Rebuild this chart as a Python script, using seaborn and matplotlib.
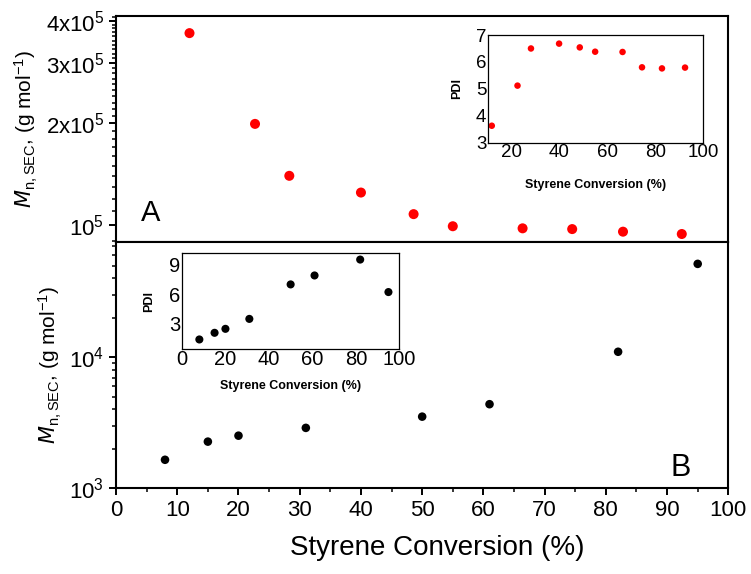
import numpy as np
import pandas as pd
import matplotlib
matplotlib.use("Agg")
import matplotlib.pyplot as plt
from matplotlib.ticker import FixedLocator, NullFormatter, MultipleLocator
import seaborn as sns

# Series A (red): number-average molar mass and dispersity vs. styrene conversion
conv_a = [12.0, 22.7, 28.3, 40.0, 48.6, 55.0, 66.4, 74.5, 82.8, 92.4]
mn_a = [3.68e5, 1.99e5, 1.40e5, 1.25e5, 1.08e5, 0.995e5, 0.981e5, 0.976e5, 0.959e5, 0.944e5]
pdi_a = [3.63, 5.12, 6.50, 6.68, 6.54, 6.38, 6.37, 5.80, 5.76, 5.79]

# Series B (black)
conv_b = [8, 15, 20, 31, 50, 61, 82, 95]
mn_b = [1650, 2270, 2520, 2890, 3520, 4380, 11000, 51500]
pdi_b = [1.43, 2.10, 2.50, 3.50, 6.97, 7.87, 9.47, 6.20]

xticks_main = [0, 10, 20, 30, 40, 50, 60, 70, 80, 90, 100]
yticks_a = [1e5, 2e5, 3e5, 4e5]
yticklabels_a = [r"$10^5$", r"$2x10^5$", r"$3x10^5$", r"$4x10^5$"]
yticks_b = [1e3, 1e4]
yticklabels_b = [r"$10^3$", r"$10^4$"]

df_a = pd.DataFrame({"conv": conv_a, "mn": mn_a, "pdi": pdi_a})
df_b = pd.DataFrame({"conv": conv_b, "mn": mn_b, "pdi": pdi_b})

sns.set_style("ticks", {"axes.edgecolor": "black", "text.color": "black",
                        "axes.labelcolor": "black", "xtick.color": "black",
                        "ytick.color": "black"})
plt.rcParams["font.family"] = ["Liberation Sans", "DejaVu Sans"]
plt.rcParams["mathtext.default"] = "regular"

fig = plt.figure(figsize=(7.51, 5.74), dpi=100)
ax_a = fig.add_axes([0.1545, 0.5789, 0.8153, 0.3937])
ax_b = fig.add_axes([0.1545, 0.1493, 0.8153, 0.4296])

ylab = r"$\mathit{M}_{\mathregular{n,SEC}}$, (g mol$^{-1}$)"

# --- Panel A ---
sns.scatterplot(data=df_a, x="conv", y="mn", ax=ax_a, color="#ff0000",
                s=52, edgecolor="none", legend=False)
ax_a.set_yscale("log")
ax_a.set_xlim(0, 100)
ax_a.set_ylim(0.896e5, 4.14e5)
ax_a.yaxis.set_major_locator(FixedLocator(yticks_a))
ax_a.set_yticklabels(yticklabels_a)
ax_a.yaxis.set_minor_locator(FixedLocator(np.arange(0.9e5, 4.15e5, 1e4)))
ax_a.yaxis.set_minor_formatter(NullFormatter())
ax_a.xaxis.set_major_locator(FixedLocator(xticks_main))
ax_a.xaxis.set_minor_locator(MultipleLocator(5))
ax_a.tick_params(axis="x", labelbottom=False)
ax_a.set_xlabel("")
ax_a.set_ylabel(ylab, fontsize=15, labelpad=4)
ax_a.text(4, 1.03e5, "A", fontsize=21)

# --- Panel B ---
sns.scatterplot(data=df_b, x="conv", y="mn", ax=ax_b, color="black",
                s=38, edgecolor="none", legend=False)
ax_b.set_yscale("log")
ax_b.set_xlim(0, 100)
ax_b.set_ylim(1e3, 7.6e4)
ax_b.yaxis.set_major_locator(FixedLocator(yticks_b))
ax_b.set_yticklabels(yticklabels_b)
minors_b = [v * m for m in (1e3, 1e4) for v in range(2, 10)]
ax_b.yaxis.set_minor_locator(FixedLocator(minors_b))
ax_b.yaxis.set_minor_formatter(NullFormatter())
ax_b.xaxis.set_major_locator(FixedLocator(xticks_main))
ax_b.xaxis.set_minor_locator(MultipleLocator(5))
ax_b.set_xlabel("Styrene Conversion (%)", fontsize=20)
ax_b.xaxis.set_label_coords(0.525, -0.19)
ax_b.set_ylabel(ylab, fontsize=15, labelpad=4)
ax_b.text(90.5, 1.25e3, "B", fontsize=22)

for ax in (ax_a, ax_b):
    ax.tick_params(which="major", length=5, width=1.4, labelsize=16,
                   top=False, right=False, direction="out")
    ax.tick_params(which="minor", length=3, width=1.1, top=False, right=False,
                   direction="out")
    for sp in ax.spines.values():
        sp.set_visible(True)
        sp.set_linewidth(1.5)

# --- Inset A: PDI ---
ins_a = fig.add_axes([0.6494, 0.7514, 0.2871, 0.1876])
sns.scatterplot(data=df_a, x="conv", y="pdi", ax=ins_a, color="#ff0000",
                s=22, edgecolor="none", legend=False)
ins_a.set_xlim(10.3, 100)
ins_a.set_ylim(3, 7)
ins_a.set_xticks([20, 40, 60, 80, 100])
ins_a.set_yticks([3, 4, 5, 6, 7])
ins_a.set_xlabel("Styrene Conversion (%)", fontsize=9, fontweight="bold", labelpad=13)
ins_a.set_ylabel("PDI", fontsize=9, fontweight="bold", labelpad=9)
ins_a.tick_params(length=0, labelsize=13.5, pad=1)

# --- Inset B: PDI ---
ins_b = fig.add_axes([0.2423, 0.3925, 0.2894, 0.1662])
sns.scatterplot(data=df_b, x="conv", y="pdi", ax=ins_b, color="black",
                s=34, edgecolor="none", legend=False)
ins_b.set_xlim(0, 100)
ins_b.set_ylim(0.5, 10.1)
ins_b.set_xticks([0, 20, 40, 60, 80, 100])
ins_b.set_yticks([3, 6, 9])
ins_b.set_xlabel("Styrene Conversion (%)", fontsize=9, fontweight="bold", labelpad=8)
ins_b.set_ylabel("PDI", fontsize=9, fontweight="bold", labelpad=10)
ins_b.tick_params(length=0, labelsize=14.5, pad=1)

for ax in (ins_a, ins_b):
    for sp in ax.spines.values():
        sp.set_visible(True)
        sp.set_linewidth(0.9)

fig.savefig("out.png", dpi=100)
